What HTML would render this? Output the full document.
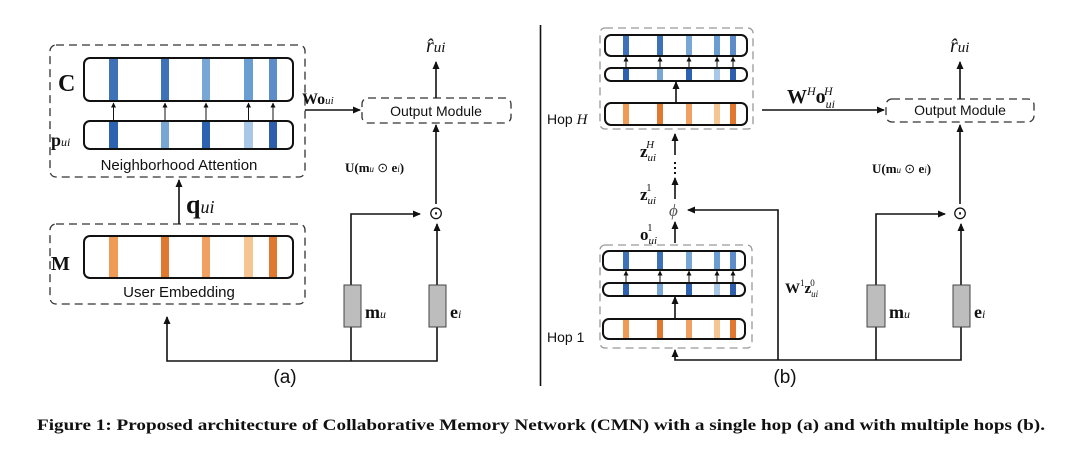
<!DOCTYPE html>
<html><head><meta charset="utf-8"><style>
html,body{margin:0;padding:0;background:#fff;}
svg{display:block;}
.s{font-family:"Liberation Sans",sans-serif;}
.m{font-family:"Liberation Serif",serif;}
</style></head><body>
<svg width="1080" height="457" viewBox="0 0 1080 457" xmlns="http://www.w3.org/2000/svg">
<defs>
<marker id="a" markerWidth="8" markerHeight="8" refX="7" refY="4" orient="auto" markerUnits="userSpaceOnUse">
<path d="M0,0.5 L8,4 L0,7.5 z" fill="#111"/></marker>
<marker id="b" markerWidth="5" markerHeight="5" refX="4.5" refY="2.5" orient="auto" markerUnits="userSpaceOnUse">
<path d="M0,0 L5,2.5 L0,5 z" fill="#111"/></marker>
</defs>
<g fill="none" stroke="#111" stroke-width="1.6">
<!-- LEFT PANEL -->
<rect x="50" y="45" width="255" height="132" rx="6" stroke="#333" stroke-width="1.3" stroke-dasharray="8,5"/>
<rect x="50" y="224" width="255" height="80" rx="6" stroke="#333" stroke-width="1.3" stroke-dasharray="8,5"/>
<rect x="362" y="98" width="149" height="25" rx="6" stroke="#333" stroke-width="1.3" stroke-dasharray="8,5"/>
</g>
<!-- C bar stripes -->
<g>
<rect x="109" y="58" width="9" height="43" fill="#3d72b8"/>
<rect x="161" y="58" width="8" height="43" fill="#3d72b8"/>
<rect x="202" y="58" width="8" height="43" fill="#78a7d6"/>
<rect x="244" y="58" width="9" height="43" fill="#6a9dd2"/>
<rect x="269" y="58" width="8" height="43" fill="#5d8ccb"/>
<rect x="109" y="121" width="9" height="28" fill="#2d62b0"/>
<rect x="161" y="121" width="8" height="28" fill="#78a7d6"/>
<rect x="202" y="121" width="8" height="28" fill="#2d62b0"/>
<rect x="244" y="121" width="9" height="28" fill="#a9c8e8"/>
<rect x="269" y="121" width="8" height="28" fill="#2d5fad"/>
<rect x="109" y="236" width="9" height="42" fill="#ef9a55"/>
<rect x="161" y="236" width="8" height="42" fill="#e07830"/>
<rect x="202" y="236" width="8" height="42" fill="#f0a060"/>
<rect x="244" y="236" width="9" height="42" fill="#f5c592"/>
<rect x="269" y="236" width="8" height="42" fill="#e07830"/>
</g>
<g fill="none" stroke="#111" stroke-width="2">
<rect x="84" y="58" width="209" height="43" rx="6"/>
<rect x="84" y="121" width="209" height="28" rx="6"/>
<rect x="84" y="236" width="209" height="42" rx="6"/>
</g>
<g stroke="#111" stroke-width="1" marker-end="url(#b)">
<line x1="113.5" y1="121" x2="113.5" y2="103"/>
<line x1="165" y1="121" x2="165" y2="103"/>
<line x1="206" y1="121" x2="206" y2="103"/>
<line x1="248.5" y1="121" x2="248.5" y2="103"/>
<line x1="273" y1="121" x2="273" y2="103"/>
</g>
<g stroke="#111" stroke-width="1.6" fill="none" marker-end="url(#a)">
<line x1="305" y1="110" x2="360" y2="110"/>
<line x1="436" y1="98" x2="436" y2="62"/>
<line x1="436" y1="204" x2="436" y2="125"/>
<line x1="179" y1="224" x2="179" y2="180"/>
<polyline points="351,285 351,214 420,214"/>
<line x1="437" y1="285" x2="437" y2="224"/>
<polyline points="437,327 437,361 167,361 167,317"/>
</g>
<line x1="351" y1="327" x2="351" y2="361" stroke="#111" stroke-width="1.6"/>
<rect x="344" y="285" width="17" height="42" fill="#bdbdbd" stroke="#444" stroke-width="1"/>
<rect x="429" y="285" width="17" height="42" fill="#bdbdbd" stroke="#444" stroke-width="1"/>
<g fill="#111">
<text class="m" x="58" y="91" font-size="24" font-weight="bold">C</text>
<text class="m" x="51" y="146" font-size="18" font-weight="bold">p<tspan font-size="12" font-style="italic" font-weight="normal">ui</tspan></text>
<text class="m" x="51" y="270" font-size="20" font-weight="bold">M</text>
<text class="s" x="179" y="170" font-size="15" text-anchor="middle">Neighborhood Attention</text>
<text class="s" x="179" y="297" font-size="15" text-anchor="middle">User Embedding</text>
<text class="s" x="436" y="116" font-size="14" text-anchor="middle">Output Module</text>
<text class="m" x="302" y="104" font-size="16" font-weight="bold">Wo<tspan font-size="11" font-style="italic" font-weight="normal">ui</tspan></text>
<text class="m" x="426" y="52" font-size="20" font-style="italic">r̂<tspan font-size="15">ui</tspan></text>
<text class="m" x="345" y="172" font-size="13" font-weight="bold">U(m<tspan font-size="9" font-style="italic" font-weight="normal">u</tspan><tspan font-weight="normal"> ⊙ </tspan>e<tspan font-size="9" font-style="italic" font-weight="normal">i</tspan>)</text>
<text class="m" x="436" y="219" font-size="18" text-anchor="middle">⊙</text>
<text class="m" x="186" y="213" font-size="26" font-weight="bold">q<tspan font-size="18" font-style="italic" font-weight="normal">ui</tspan></text>
<text class="m" x="365" y="318" font-size="18" font-weight="bold">m<tspan font-size="12" font-style="italic" font-weight="normal">u</tspan></text>
<text class="m" x="450" y="318" font-size="18" font-weight="bold">e<tspan font-size="12" font-style="italic" font-weight="normal">i</tspan></text>
<text class="s" x="285" y="383" font-size="19" text-anchor="middle">(a)</text>
</g>
<line x1="540.5" y1="25" x2="540.5" y2="386" stroke="#111" stroke-width="1.6"/>
<!-- RIGHT PANEL -->
<g fill="none" stroke="#999" stroke-width="1.3" stroke-dasharray="8,5">
<rect x="600" y="28" width="153" height="101" rx="5"/>
<rect x="600" y="245" width="152" height="103" rx="5"/>
</g>
<rect x="886" y="99" width="148" height="23" rx="6" fill="none" stroke="#333" stroke-width="1.3" stroke-dasharray="8,5"/>
<g>
<!-- hop H -->
<rect x="623" y="35" width="6" height="21" fill="#3d72b8"/><rect x="657" y="35" width="6" height="21" fill="#3d72b8"/><rect x="686" y="35" width="6" height="21" fill="#78a7d6"/><rect x="714" y="35" width="6" height="21" fill="#6a9dd2"/><rect x="730" y="35" width="6" height="21" fill="#5d8ccb"/>
<rect x="623" y="68" width="6" height="13" fill="#2d62b0"/><rect x="657" y="68" width="6" height="13" fill="#78a7d6"/><rect x="686" y="68" width="6" height="13" fill="#2d62b0"/><rect x="714" y="68" width="6" height="13" fill="#a9c8e8"/><rect x="730" y="68" width="6" height="13" fill="#2d5fad"/>
<rect x="623" y="103" width="6" height="22" fill="#ef9a55"/><rect x="657" y="103" width="6" height="22" fill="#e07830"/><rect x="686" y="103" width="6" height="22" fill="#f0a060"/><rect x="714" y="103" width="6" height="22" fill="#f5c592"/><rect x="730" y="103" width="6" height="22" fill="#e07830"/>
<!-- hop 1 -->
<rect x="623" y="251" width="6" height="19" fill="#3d72b8"/><rect x="657" y="251" width="6" height="19" fill="#3d72b8"/><rect x="686" y="251" width="6" height="19" fill="#78a7d6"/><rect x="714" y="251" width="6" height="19" fill="#6a9dd2"/><rect x="730" y="251" width="6" height="19" fill="#5d8ccb"/>
<rect x="623" y="283" width="6" height="13" fill="#2d62b0"/><rect x="657" y="283" width="6" height="13" fill="#78a7d6"/><rect x="686" y="283" width="6" height="13" fill="#2d62b0"/><rect x="714" y="283" width="6" height="13" fill="#a9c8e8"/><rect x="730" y="283" width="6" height="13" fill="#2d5fad"/>
<rect x="623" y="319" width="6" height="20" fill="#ef9a55"/><rect x="657" y="319" width="6" height="20" fill="#e07830"/><rect x="686" y="319" width="6" height="20" fill="#f0a060"/><rect x="714" y="319" width="6" height="20" fill="#f5c592"/><rect x="730" y="319" width="6" height="20" fill="#e07830"/>
</g>
<g fill="none" stroke="#111" stroke-width="2">
<rect x="605" y="35" width="142" height="21" rx="6"/>
<rect x="605" y="68" width="142" height="13" rx="6"/>
<rect x="605" y="103" width="142" height="22" rx="6"/>
<rect x="603" y="251" width="142" height="19" rx="6"/>
<rect x="603" y="283" width="142" height="13" rx="6"/>
<rect x="603" y="319" width="142" height="20" rx="6"/>
</g>
<g stroke="#111" stroke-width="1" marker-end="url(#b)">
<line x1="626" y1="68" x2="626" y2="57"/><line x1="660" y1="68" x2="660" y2="57"/><line x1="689" y1="68" x2="689" y2="57"/><line x1="717" y1="68" x2="717" y2="57"/><line x1="733" y1="68" x2="733" y2="57"/>
<line x1="626" y1="283" x2="626" y2="271"/><line x1="660" y1="283" x2="660" y2="271"/><line x1="689" y1="283" x2="689" y2="271"/><line x1="717" y1="283" x2="717" y2="271"/><line x1="733" y1="283" x2="733" y2="271"/>
</g>
<g stroke="#111" stroke-width="1.6" fill="none" marker-end="url(#a)">
<line x1="676" y1="103" x2="676" y2="82"/>
<line x1="675" y1="319" x2="675" y2="297"/>
<line x1="675" y1="155" x2="675" y2="134"/>
<line x1="675" y1="199" x2="675" y2="178"/>
<line x1="675" y1="243" x2="675" y2="222"/>
<line x1="762" y1="110" x2="884" y2="110"/>
<line x1="960" y1="99" x2="960" y2="62"/>
<line x1="960" y1="204" x2="960" y2="125"/>
<polyline points="876,285 876,214 945,214"/>
<line x1="961" y1="285" x2="961" y2="224"/>
<polyline points="961,327 961,360 675,360 675,350"/>
<polyline points="778,360 778,210 688,210"/>
</g>
<line x1="876" y1="327" x2="876" y2="360" stroke="#111" stroke-width="1.6"/>
<line x1="675" y1="162" x2="675" y2="176" stroke="#111" stroke-width="2" stroke-dasharray="2,3"/>
<rect x="867" y="285" width="18" height="42" fill="#bdbdbd" stroke="#444" stroke-width="1"/>
<rect x="953" y="285" width="17" height="42" fill="#bdbdbd" stroke="#444" stroke-width="1"/>
<g fill="#111">
<text class="s" x="547" y="124" font-size="14">Hop <tspan class="m" font-style="italic" font-size="15">H</tspan></text>
<text class="s" x="547" y="342" font-size="14">Hop 1</text>
<text class="m" x="640" y="157" font-size="17" font-weight="bold">z<tspan font-size="11" font-style="italic" font-weight="normal" dy="4">ui</tspan><tspan font-size="11" font-style="italic" font-weight="normal" dx="-10" dy="-13">H</tspan></text>
<text class="m" x="640" y="200" font-size="17" font-weight="bold">z<tspan font-size="11" font-style="italic" font-weight="normal" dy="4">ui</tspan><tspan font-size="11" font-weight="normal" dx="-10" dy="-13">1</tspan></text>
<text class="m" x="640" y="240" font-size="17" font-weight="bold">o<tspan font-size="11" font-style="italic" font-weight="normal" dy="4">ui</tspan><tspan font-size="11" font-weight="normal" dx="-10" dy="-13">1</tspan></text>
<text class="m" x="669" y="216" font-size="17" font-style="italic" fill="#555">ϕ</text>
<text class="m" x="787" y="103" font-size="20" font-weight="bold">W<tspan font-size="12" font-style="italic" font-weight="normal" dy="-8">H</tspan><tspan dy="8">o</tspan><tspan font-size="12" font-style="italic" font-weight="normal" dy="5">ui</tspan><tspan font-size="12" font-style="italic" font-weight="normal" dx="-11" dy="-13">H</tspan></text>
<text class="m" x="785" y="293" font-size="15" font-weight="bold">W<tspan font-size="9" font-weight="normal" dy="-7">1</tspan><tspan dy="7">z</tspan><tspan font-size="9" font-style="italic" font-weight="normal" dy="4">ui</tspan><tspan font-size="9" font-weight="normal" dx="-8" dy="-11">0</tspan></text>
<text class="s" x="960" y="115" font-size="14" text-anchor="middle">Output Module</text>
<text class="m" x="950" y="52" font-size="20" font-style="italic">r̂<tspan font-size="15">ui</tspan></text>
<text class="m" x="872" y="173" font-size="13" font-weight="bold">U(m<tspan font-size="9" font-style="italic" font-weight="normal">u</tspan><tspan font-weight="normal"> ⊙ </tspan>e<tspan font-size="9" font-style="italic" font-weight="normal">i</tspan>)</text>
<text class="m" x="960" y="219" font-size="18" text-anchor="middle">⊙</text>
<text class="m" x="889" y="318" font-size="18" font-weight="bold">m<tspan font-size="12" font-style="italic" font-weight="normal">u</tspan></text>
<text class="m" x="974" y="318" font-size="18" font-weight="bold">e<tspan font-size="12" font-style="italic" font-weight="normal">i</tspan></text>
<text class="s" x="785" y="383" font-size="19" text-anchor="middle">(b)</text>
<text class="m" x="37" y="430" font-size="15.5" font-weight="bold" textLength="1008" lengthAdjust="spacingAndGlyphs">Figure 1: Proposed architecture of Collaborative Memory Network (CMN) with a single hop (a) and with multiple hops (b).</text>
</g>
</svg>
</body></html>
